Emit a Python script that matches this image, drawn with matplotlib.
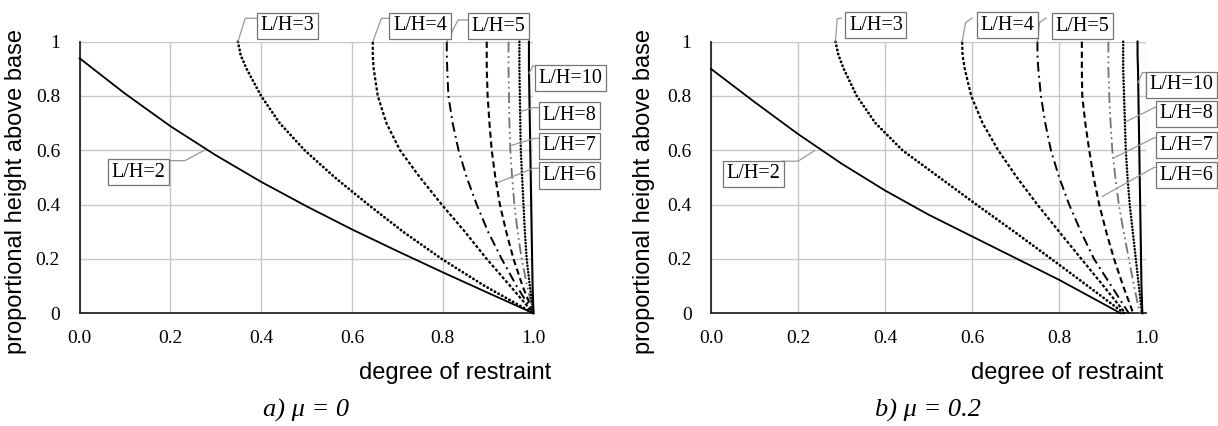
import matplotlib
matplotlib.use("Agg")
import matplotlib.pyplot as plt

# ---------------- data ----------------
labels = ["L/H=2", "L/H=3", "L/H=4", "L/H=5", "L/H=6", "L/H=7", "L/H=8", "L/H=10"]

heights = [1.0, 0.95, 0.9, 0.8, 0.7, 0.6, 0.5, 0.4, 0.3, 0.2, 0.1, 0.0]

# panel a) mu = 0
a_lh2_x = [0.0, 0.1, 0.2, 0.3, 0.4, 0.5, 0.6, 0.7, 0.8, 0.9, 1.0]
a_lh2_y = [0.939, 0.809, 0.689, 0.582, 0.484, 0.394, 0.309, 0.229, 0.151, 0.075, 0.0]
a_lh3_x = [0.349, 0.355, 0.368, 0.40, 0.441, 0.496, 0.5625, 0.636, 0.713, 0.798, 0.893, 1.0]
a_lh4_x = [0.646, 0.646, 0.648, 0.657, 0.676, 0.706, 0.75, 0.798, 0.849, 0.897, 0.949, 1.0]
a_lh5_x = [0.809, 0.809, 0.81, 0.8125, 0.822, 0.835, 0.853, 0.875, 0.90, 0.93, 0.963, 1.0]
a_lh6_x = [0.897, 0.897, 0.897, 0.899, 0.903, 0.908, 0.916, 0.926, 0.94, 0.956, 0.976, 1.0]
a_lh7_x = [0.945, 0.945, 0.945, 0.946, 0.947, 0.949, 0.953, 0.958, 0.965, 0.974, 0.986, 1.0]
a_lh8_x = [0.969, 0.969, 0.969, 0.97, 0.971, 0.972, 0.975, 0.978, 0.981, 0.985, 0.992, 1.0]
a_lh10_x = [0.99, 0.99, 0.99, 0.991, 0.992, 0.993, 0.994, 0.995, 0.996, 0.997, 0.998, 1.0]

# panel b) mu = 0.2
b_lh2_x = [0.0, 0.1, 0.2, 0.3, 0.4, 0.5, 0.6, 0.7, 0.8, 0.9, 0.941]
b_lh2_y = [0.90, 0.778, 0.66, 0.551, 0.452, 0.363, 0.283, 0.203, 0.123, 0.036, 0.0]
b_lh3_x = [0.286, 0.293, 0.305, 0.335, 0.378, 0.44, 0.525, 0.61, 0.697, 0.782, 0.866, 0.949]
b_lh4_x = [0.577, 0.578, 0.583, 0.598, 0.624, 0.66, 0.703, 0.75, 0.80, 0.851, 0.902, 0.952]
b_lh5_x = [0.75, 0.75, 0.752, 0.758, 0.768, 0.781, 0.80, 0.823, 0.85, 0.88, 0.92, 0.96]
b_lh6_x = [0.852, 0.852, 0.852, 0.853, 0.86, 0.869, 0.879, 0.892, 0.908, 0.926, 0.947, 0.97]
b_lh7_x = [0.913, 0.913, 0.913, 0.915, 0.918, 0.922, 0.929, 0.937, 0.948, 0.96, 0.972, 0.985]
b_lh8_x = [0.947, 0.947, 0.947, 0.949, 0.951, 0.953, 0.957, 0.962, 0.969, 0.976, 0.983, 0.99]
b_lh10_x = [0.98, 0.98, 0.981, 0.982, 0.983, 0.984, 0.985, 0.986, 0.987, 0.988, 0.989, 0.991]

x_ticks = [0.0, 0.2, 0.4, 0.6, 0.8, 1.0]
x_ticklabels = ["0.0", "0.2", "0.4", "0.6", "0.8", "1.0"]
y_ticks = [0.0, 0.2, 0.4, 0.6, 0.8, 1.0]
y_ticklabels = ["0", "0.2", "0.4", "0.6", "0.8", "1"]

captions = ["a) \u03bc = 0", "b) \u03bc = 0.2"]

# ---------------- styles ----------------
styles = {
    "L/H=2": dict(color="black", lw=1.3, ls="-"),
    "L/H=3": dict(color="black", lw=2.0, ls=(0, (0.1, 1.4)), dash_capstyle="round"),
    "L/H=4": dict(color="black", lw=1.6, ls=(0, (1.4, 0.9))),
    "L/H=5": dict(color="black", lw=1.4, ls=(0, (5, 2.2, 1, 2.2))),
    "L/H=6": dict(color="black", lw=1.5, ls=(0, (3.0, 1.8))),
    "L/H=7": dict(color="0.45", lw=1.3, ls=(0, (6, 2, 1, 2, 1, 2))),
    "L/H=8": dict(color="black", lw=1.8, ls=(0, (0.1, 1.2)), dash_capstyle="round"),
    "L/H=10": dict(color="black", lw=1.5, ls="-"),
}

SERIF = "Liberation Serif"
SANS = "Liberation Sans"

fig = plt.figure(figsize=(12.18, 4.26), dpi=100)
ax_a = fig.add_axes([0.0653, 0.2646, 0.3727, 0.6376])
ax_b = fig.add_axes([0.5837, 0.2646, 0.3574, 0.6376])

panel_data = [
    (ax_a, [(a_lh2_x, a_lh2_y), (a_lh3_x, heights), (a_lh4_x, heights), (a_lh5_x, heights),
            (a_lh6_x, heights), (a_lh7_x, heights), (a_lh8_x, heights), (a_lh10_x, heights)]),
    (ax_b, [(b_lh2_x, b_lh2_y), (b_lh3_x, heights), (b_lh4_x, heights), (b_lh5_x, heights),
            (b_lh6_x, heights), (b_lh7_x, heights), (b_lh8_x, heights), (b_lh10_x, heights)]),
]

# annotation layout: label -> (text center, leader polyline)
ann_a = {
    "L/H=2": ((0.13, 0.519), [(0.275, 0.60), (0.232, 0.562), (0.197, 0.562)]),
    "L/H=3": ((0.458, 1.058), [(0.349, 1.0), (0.365, 1.086), (0.39, 1.086)]),
    "L/H=4": ((0.75, 1.058), [(0.646, 1.0), (0.665, 1.086), (0.682, 1.086)]),
    "L/H=5": ((0.923, 1.057), [(0.809, 1.0), (0.834, 1.08), (0.855, 1.08)]),
    "L/H=10": ((1.082, 0.866), [(0.99, 0.883), (0.998, 0.91), (1.01, 0.91)]),
    "L/H=8": ((1.08, 0.728), [(0.969, 0.742), (1.0, 0.757), (1.018, 0.757)]),
    "L/H=7": ((1.08, 0.616), [(0.949, 0.617), (1.003, 0.644), (1.018, 0.644)]),
    "L/H=6": ((1.08, 0.507), [(0.921, 0.481), (1.0, 0.534), (1.018, 0.534)]),
}
ann_b = {
    "L/H=2": ((0.097, 0.514), [(0.238, 0.599), (0.20, 0.56), (0.164, 0.56)]),
    "L/H=3": ((0.379, 1.06), [(0.286, 1.0), (0.29, 1.084), (0.30, 1.087)]),
    "L/H=4": ((0.681, 1.06), [(0.577, 1.0), (0.585, 1.07), (0.60, 1.087)]),
    "L/H=5": ((0.853, 1.057), [(0.75, 1.0), (0.755, 1.071), (0.77, 1.087)]),
    "L/H=10": ((1.081, 0.841), [(0.981, 0.849), (0.991, 0.886), (1.005, 0.886)]),
    "L/H=8": ((1.093, 0.734), [(0.953, 0.705), (1.021, 0.759), (1.031, 0.759)]),
    "L/H=7": ((1.093, 0.619), [(0.928, 0.574), (1.018, 0.646), (1.031, 0.646)]),
    "L/H=6": ((1.093, 0.509), [(0.899, 0.43), (1.018, 0.537), (1.031, 0.537)]),
}

for (ax, curves), ann, cap, cap_x, ylab_x, xlab_x in zip(
        panel_data, [ann_a, ann_b], captions, [0.2515, 0.762], [-0.1156, -0.129], [0.827, 0.818]):
    ax.set_xlim(0, 1)
    ax.set_ylim(0, 1)
    ax.set_xticks(x_ticks)
    ax.set_xticklabels(x_ticklabels, family=SERIF, fontsize=14)
    ax.set_yticks(y_ticks)
    ax.set_yticklabels(y_ticklabels, family=SERIF, fontsize=14)
    ax.tick_params(axis="both", length=0)
    ax.tick_params(axis="x", pad=12)
    ax.tick_params(axis="y", pad=14)
    ax.grid(True, color="0.78", lw=1.0)
    ax.set_axisbelow(True)
    for s in ["top", "right"]:
        ax.spines[s].set_visible(False)
    for s in ["left", "bottom"]:
        ax.spines[s].set_color("0.15")
        ax.spines[s].set_linewidth(1.3)
        ax.spines[s].set_zorder(3)

    for lab, (xs, ys) in zip(labels, curves):
        st = dict(styles[lab])
        ls = st.pop("ls")
        ax.plot(xs, ys, linestyle=ls, zorder=4, clip_on=False, **st)

    for lab in labels:
        (tx, ty), pts = ann[lab]
        px = [p[0] for p in pts]
        py = [p[1] for p in pts]
        ax.plot(px, py, color="0.6", lw=0.9, clip_on=False, zorder=5)
        ax.text(tx, ty, lab, family=SERIF, fontsize=14.5, ha="center", va="center",
                zorder=6, clip_on=False,
                bbox=dict(boxstyle="square,pad=0.18", fc="white", ec="0.45", lw=0.9))

    ax.set_ylabel("proportional height above base", family=SANS, fontsize=17)
    ax.yaxis.set_label_coords(ylab_x, 0.45)
    ax.text(xlab_x, -0.22, "degree of restraint", family=SANS, fontsize=17,
            ha="center", va="center", transform=ax.transAxes)
    fig.text(cap_x, 0.0376, cap, family=SERIF, style="italic", fontsize=19,
             ha="center", va="center")

fig.savefig("out.png", dpi=100)
